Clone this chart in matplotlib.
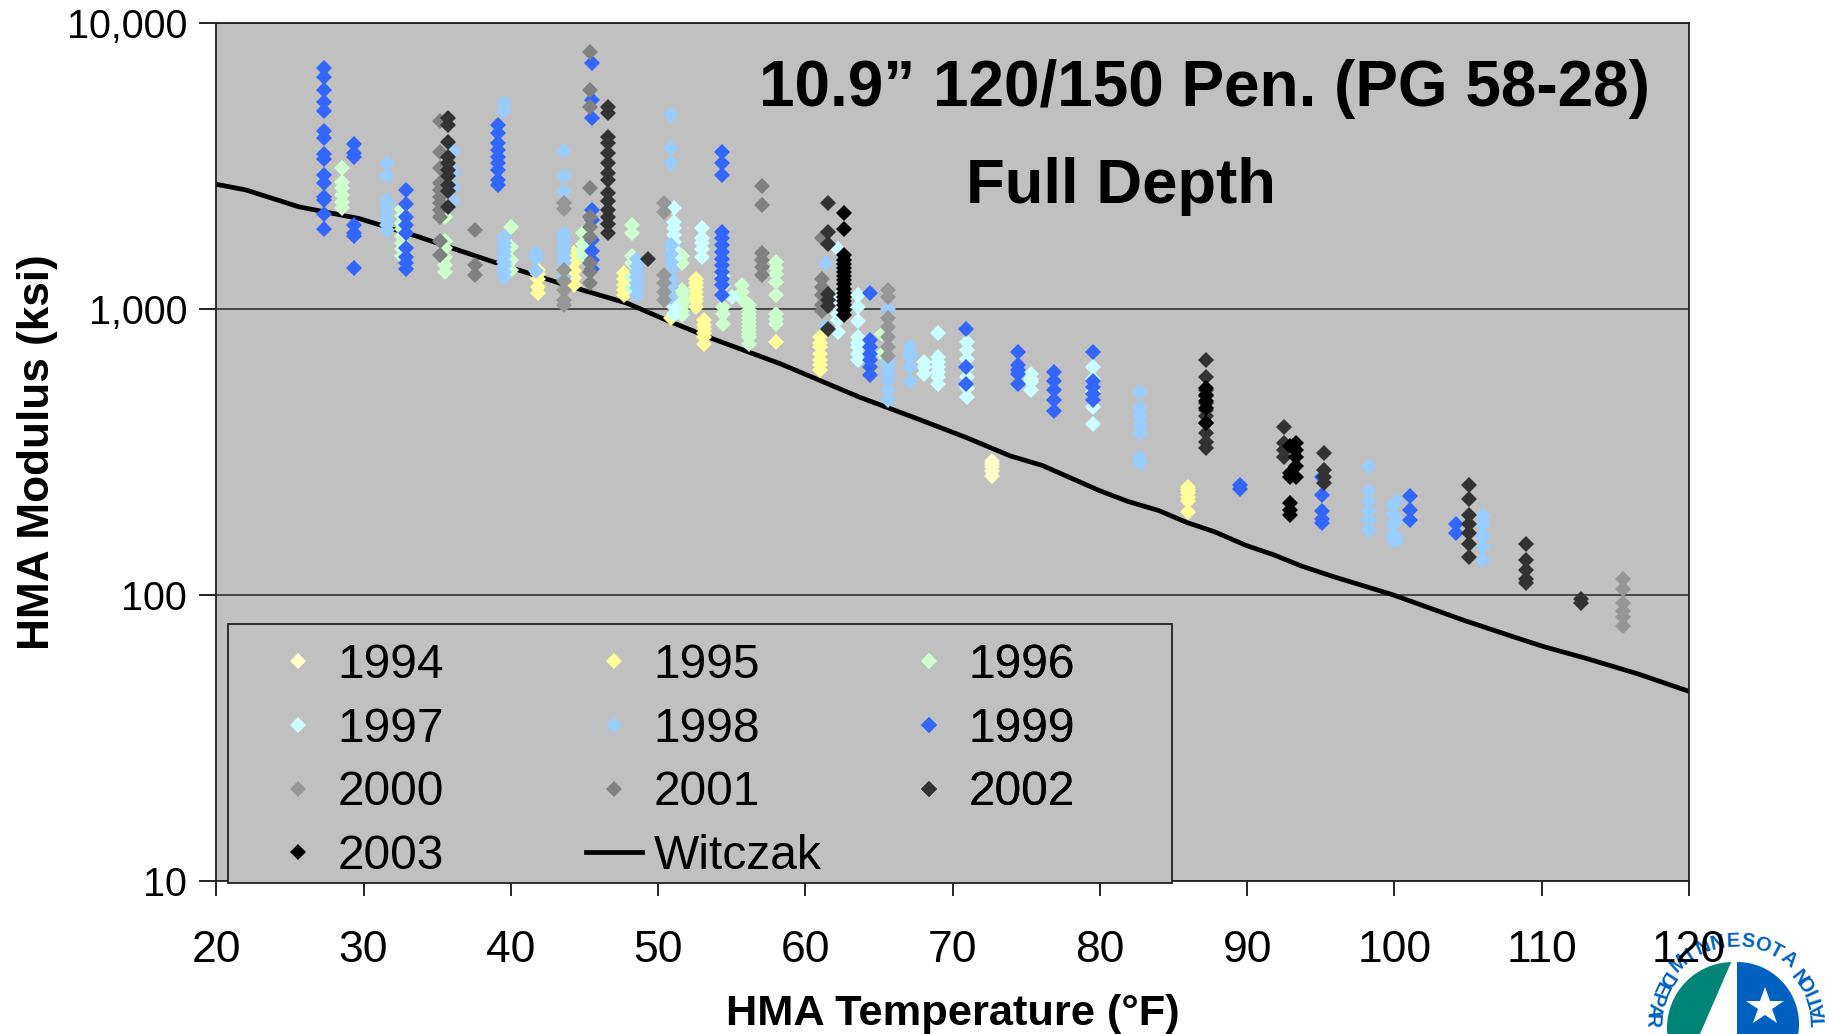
import numpy as np
import matplotlib
matplotlib.use('Agg')
import matplotlib.pyplot as plt
from matplotlib.patches import Wedge, Polygon, Rectangle

plt.rcParams['font.family'] = ['Liberation Sans', 'DejaVu Sans']

# each year: (temperature F, [modulus ksi at that temperature])
y1994 = [(72.7, [294, 286, 279, 270, 261])]
y1995 = [(41.85, [1370, 1320, 1270, 1195, 1133]), (44.3, [1565, 1500, 1440, 1350, 1280, 1210]),
         (47.7, [1335, 1270, 1210, 1165, 1120]), (50.85, [930]),
         (52.6, [1273, 1230, 1190, 1140, 1100, 1060, 1015]),
         (53.1, [910, 880, 850, 820, 795, 755]), (58.0, [765]),
         (60.98, [795, 760, 733, 695, 660, 635, 610]), (86.0, [239, 232, 226, 219, 213, 195])]
y1996 = [(28.55, [3095, 2760, 2635, 2500, 2367, 2243]), (32.6, [2225, 2100, 2000, 1900, 1800, 1700, 1620, 1530]),
         (35.5, [2095, 1730, 1630, 1520, 1425, 1340]), (40.0, [1925, 1645, 1475, 1370]),
         (44.9, [1840, 1680, 1600, 1525]), (48.2, [1955, 1840, 1530, 1440, 1290, 1180]),
         (51.65, [1530, 1440, 1160, 1120, 1085, 1050, 1015, 980, 950]), (54.4, [1300, 1200, 1010, 960, 885]),
         (55.7, [1207, 1145, 1085]), (56.2, [1030, 990, 960, 930, 900, 870, 840, 815, 795, 755]),
         (58.0, [1457, 1390, 1327, 1240, 1115, 960, 920, 885]), (65.2, [815, 695])]
y1997 = [(51.07, [2250, 2015, 1910, 1805, 1710, 1620, 1517, 1010, 960]),
         (53.0, [1910, 1760, 1690, 1620, 1517]), (55.05, [1100]),
         (62.2, [1620, 1100, 1050, 1010, 960, 910, 830]), (63.6, [1115, 1010, 905, 795, 760, 733, 695, 660]),
         (68.06, [650, 625, 590]), (69.0, [822, 680, 650, 625, 600, 575, 545]),
         (71.0, [765, 715, 668, 620, 575, 530, 490]), (75.3, [590, 570, 553, 518]),
         (79.55, [625, 570, 510, 453, 396])]
y1998 = [(31.56, [3240, 2897, 2400, 2280, 2165, 2045, 1960, 1890]), (36.1, [3560, 3000, 2670, 2370]),
         (39.55, [5222, 4888, 1780, 1700, 1645, 1580, 1525, 1460, 1405, 1345, 1290]), (41.7, [1565, 1505, 1350]),
         (43.6, [3560, 2910, 2550, 1840, 1760, 1680, 1620, 1565, 1500, 1440, 1290]),
         (48.6, [1490, 1405, 1340, 1290, 1230, 1180, 1117]),
         (50.85, [4760, 3640, 3240, 1667, 1555, 1457, 1364, 1273, 1190, 1100]),
         (61.4, [1445, 860]), (65.6, [1000, 660, 635, 610, 585, 560, 520, 478]),
         (67.1, [733, 700, 680, 625, 560]), (82.74, [510, 448, 420, 393, 367, 304, 288]),
         (98.25, [281, 230, 213, 197, 183, 169]), (99.9, [206, 191, 177, 164, 155]),
         (100.2, [212, 183, 155]), (106.0, [189, 175, 160, 147, 132])]
y1999 = [(27.33, [6918, 6471, 5808, 5290, 4920, 4187, 3936, 3470, 3324, 2929, 2754, 2459, 2395, 2138, 1891]),
         (29.37, [3767, 3490, 3400, 1965, 1840, 1790, 1385]),
         (32.9, [2590, 2325, 2090, 1965, 1840, 1630, 1520, 1440, 1380]),
         (39.1, [4390, 4120, 3785, 3590, 3400, 3240, 3060, 2815, 2700]),
         (45.5, [7230, 5370, 4630, 2220, 2045, 1735, 1595, 1480, 1380]),
         (54.35, [3540, 3230, 2924, 1855, 1760, 1667, 1580, 1497, 1418, 1344, 1273, 1207, 1115]),
         (64.4, [1130, 775, 733, 695, 660, 625, 585]), (70.9, [851, 625, 545]),
         (74.45, [705, 634, 610, 590, 546]), (76.9, [600, 561, 518, 478, 440]),
         (79.5, [705, 561, 532, 505, 478]), (89.5, [242, 234]),
         (95.1, [259, 223, 197, 184, 178]), (101.07, [222, 198, 183]), (104.2, [177, 164])]
y2000 = [(43.6, [2340, 2235, 1370, 1250, 1165, 1074, 1027]),
         (50.4, [2340, 2180, 1308, 1225, 1145, 1070]),
         (65.6, [1165, 1100, 930, 860, 795, 733, 685]),
         (115.5, [114, 105, 94, 88, 84, 78])]
y2001 = [(35.2, [4510, 3530, 3095, 2755, 2600, 2460, 2340, 2210, 2097, 1730, 1540]),
         (37.6, [1880, 1425, 1310]),
         (45.4, [7870, 5800, 5080, 2640, 2095, 1925, 1780, 1440, 1340, 1230]),
         (57.07, [2680, 2300, 1560, 1477, 1400, 1308]),
         (61.1, [1760, 1273, 1190, 1115, 1030, 985])]
y2002 = [(35.7, [4630, 4390, 3830, 3400, 3220, 3060, 2900, 2700, 2570, 2270]),
         (46.6, [5060, 4820, 3990, 3790, 3490, 3220, 2970, 2810, 2530, 2370, 2220, 2090, 1980, 1840]),
         (49.3, [1490]), (61.55, [2345, 1855, 1680, 1125, 1070, 1025, 851]),
         (87.2, [660, 578, 521, 494, 468, 443, 420, 398, 367, 343, 325]),
         (92.5, [385, 339, 321, 304]), (95.24, [313, 273, 259, 245]),
         (105.05, [242, 217, 190, 177, 164, 151, 136]),
         (108.9, [151, 132, 122, 114, 110]), (112.7, [97, 94])]
y2003 = [(62.6, [2160, 1900, 1540, 1480, 1437, 1390, 1344, 1300, 1257, 1215, 1175, 1135, 1100, 1065, 1030, 990, 950]),
         (87.2, [527, 500, 474, 448, 400]), (93.3, [339, 321, 304, 282, 259]),
         (92.93, [330, 266, 259, 209, 198, 190])]

years = ['1994', '1995', '1996', '1997', '1998', '1999', '2000', '2001', '2002', '2003']
year_data = [y1994, y1995, y1996, y1997, y1998, y1999, y2000, y2001, y2002, y2003]
year_colors = ['#FFFFCC', '#FFFF99', '#CCFFCC', '#CCFFFF', '#99CCFF',
               '#3366FF', '#969696', '#808080', '#333333', '#000000']

witczak_t = [20, 22, 25.6, 29.7, 33.6, 39.2, 43.7, 47.9, 50.6, 53.7, 58.3, 63.7, 67.3, 70.9, 73.9,
             76.1, 80, 81.9, 84, 85.9, 87.8, 89.9, 91.8, 93.7, 95.8, 99.9, 104.7, 108.2, 110.1, 113, 116.5, 120]
witczak_e = [2720, 2600, 2270, 2065, 1792, 1435, 1210, 1045, 910, 785, 642, 490, 418, 355, 306,
             283, 231, 212, 197, 179, 166, 149, 138, 126, 116, 100, 81.5, 71, 66, 60, 53, 46]

W, H = 1830, 1034
fig = plt.figure(figsize=(W / 100, H / 100), dpi=100)
ax = fig.add_axes([216.3 / W, 1 - 881 / H, (1689 - 216.3) / W, (881 - 22.5) / H])
ax.set_facecolor('#C0C0C0')
ax.set_xlim(20, 120)
ax.set_yscale('log')
ax.set_ylim(10, 10000)
ax.set_yticks([10, 100, 1000, 10000])
ax.set_yticklabels(['10', '100', '1,000', '10,000'])
ax.minorticks_off()
ax.set_xticks(range(20, 121, 10))
ax.tick_params(axis='y', labelsize=28.5, length=12, width=1.2, pad=9)
ax.tick_params(axis='x', labelsize=32, length=11, width=1.2, pad=24)
ax.grid(axis='y', color='#333333', linewidth=1.2, zorder=1)
ax.set_axisbelow(True)
for s in ax.spines.values():
    s.set_linewidth(1.3)
    s.set_color('#222222')

line, = ax.plot(witczak_t, witczak_e, color='black', linewidth=3.4, zorder=2, label='Witczak')

handles = {}
for name, data, col in zip(years, year_data, year_colors):
    xs = []
    ys = []
    for t, vals in data:
        for v in vals:
            xs.append(t)
            ys.append(v)
    handles[name], = ax.plot(xs, ys, linestyle='none', marker='D', markersize=8, color=col,
                             markeredgewidth=0, zorder=3, label=name)

# legend box and its three columns, each column placed on its own
ax.add_patch(Rectangle((228 / W, 1 - 883 / H), (1172 - 228) / W, (883 - 624) / H, transform=fig.transFigure,
                       facecolor='#C0C0C0', edgecolor='#222222', linewidth=1.3, clip_on=False, zorder=5))
columns = [[handles['1994'], handles['1997'], handles['2000'], handles['2003']],
           [handles['1995'], handles['1998'], handles['2001'], line],
           [handles['1996'], handles['1999'], handles['2002']]]
for col_handles, left in zip(columns, [270, 586, 901]):
    leg = ax.legend(handles=col_handles, fontsize=34.5, frameon=False, loc='upper left', borderaxespad=0,
                    bbox_to_anchor=(left / W, 1 - 643 / H), bbox_transform=fig.transFigure,
                    labelspacing=0.39, handlelength=1.17, handletextpad=0.24, borderpad=0)
    leg.set_zorder(6)
    ax.add_artist(leg)

ax.set_xlabel('HMA Temperature (°F)', fontsize=31.2, fontweight='bold', labelpad=17)
ax.set_ylabel('HMA Modulus (ksi)', fontsize=31.8, fontweight='bold', labelpad=6)
fig.text(1204 / W, 1 - 89 / H, '10.9” 120/150 Pen. (PG 58-28)', fontsize=46, fontweight='bold',
         ha='center', va='center')
fig.text(1121 / W, 1 - 186 / H, 'Full Depth', fontsize=45.7, fontweight='bold', ha='center', va='center')

# seal in the bottom right corner, cut by the edge of the image
logo = fig.add_axes([0, 0, 1, 1], zorder=-1)
logo.set_xlim(0, W)
logo.set_ylim(H, 0)
logo.axis('off')
cx, cy = 1736, 1025
logo.add_patch(Wedge((1737, 1024), 62, 270, 90, facecolor='#0060C0', edgecolor='none'))
logo.add_patch(Wedge((1733, 1028), 66, 90, 270, facecolor='#008478', edgecolor='none'))
logo.add_patch(Polygon([(1733, 958), (1737, 958), (1737, H), (1700, H)], facecolor='white', edgecolor='none'))
logo.plot([1765], [1007], marker='*', markersize=29, color='white', markeredgewidth=0)


def arc_text(word, start, step, flip):
    for i, ch in enumerate(word):
        a = np.radians(start + i * step)
        x = cx + 84 * np.cos(a)
        y = cy - 84 * np.sin(a)
        rot = np.degrees(a) + (90 if flip else -90)
        logo.text(x, y, ch, color='#0060C0', fontsize=14.5, fontweight='bold', rotation=rot,
                  ha='center', va='center', rotation_mode='anchor')


arc_text('MINNESOTA', 133, -10.2, False)
arc_text('DEPAR', 147, 7.5, True)
arc_text('NOITAT', 38, -7, True)

fig.savefig('out.png', dpi=100)
